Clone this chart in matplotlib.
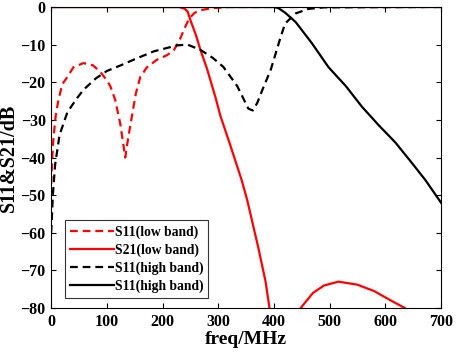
import numpy as np
import matplotlib
matplotlib.use("Agg")
import matplotlib.pyplot as plt

# S11 low band (red dashed)
s11_low_f = [0, 2, 4, 8, 13, 20, 29, 40, 58, 75, 88, 100, 106, 115, 124, 133, 138, 145, 152, 160, 172, 190, 208, 220, 230, 240, 248, 258, 270, 290, 320, 700]
s11_low_db = [-47, -40, -35, -29, -24.7, -20.5, -18.6, -16, -14.9, -15.5, -17.2, -19.5, -21, -24.7, -31, -40, -35, -29, -23, -18.6, -16, -14, -12.8, -11.5, -9, -5.5, -3, -1.5, -0.8, -0.3, 0, 0]

# S21 low band (red solid)
s21_low_f = [0, 230, 240, 245, 250, 260, 268, 280, 295, 304, 320, 342, 352, 372, 385, 392, 398, 440, 448, 470, 490, 516, 550, 580, 610, 635, 650]
s21_low_db = [0, 0, -0.5, -1.2, -3.5, -7.5, -11.4, -16.5, -24, -29, -36, -46, -51.3, -64, -73, -80, -86, -86, -80, -76, -74, -73, -73.8, -75.5, -78, -80, -82]

# S11 high band (black dashed)
s11_high_f = [0, 3, 7, 15, 29, 45, 58, 80, 100, 125, 148, 184, 226, 245, 268, 290, 309, 334, 354, 362, 370, 382, 394, 412, 420, 439, 462, 490, 700]
s11_high_db = [-60, -50, -42, -34, -28, -24.5, -22, -19, -17, -15.5, -14, -11.8, -10.2, -10, -11.4, -13.5, -15.9, -21, -27, -27.5, -25.5, -21, -16.8, -8, -4.4, -1.7, -0.5, -0.1, 0]

# S21 high band (black solid, labelled S11 in the original)
s21_high_f = [0, 400, 408, 420, 439, 468, 498, 529, 558, 588, 618, 648, 672, 700]
s21_high_db = [0, 0, -0.3, -1.5, -4, -9.6, -16, -21, -26.5, -31.4, -36, -41.5, -46, -52]

plt.rcParams['font.family'] = ['Liberation Serif', 'DejaVu Serif']
plt.rcParams['font.weight'] = 'bold'

fig = plt.figure(figsize=(4.57, 3.59), dpi=100)
ax = fig.add_axes([0.112, 0.142, 0.853, 0.8385])

dash = (3.5, 2.2)
ax.plot(s11_low_f, s11_low_db, color='r', lw=1.6, ls='--', dashes=dash, label='S11(low band)')
ax.plot(s21_low_f, s21_low_db, color='r', lw=1.6, ls='-', label='S21(low band)')
ax.plot(s11_high_f, s11_high_db, color='k', lw=1.6, ls='--', dashes=dash, label='S11(high band)')
ax.plot(s21_high_f, s21_high_db, color='k', lw=1.6, ls='-', label='S11(high band)')

ax.set_xlim(0, 700)
ax.set_ylim(-80, 0)
ax.set_xticks(np.arange(0, 701, 100))
ax.set_yticks(np.arange(-80, 1, 10))
ax.tick_params(direction='in', top=True, right=True, length=3.5, labelsize=11.5, width=0.8, pad=4)
for lab in ax.get_xticklabels() + ax.get_yticklabels():
    lab.set_fontweight('bold')

ax.set_xlabel('freq/MHz', fontsize=14, fontweight='bold', labelpad=1)
ax.set_ylabel('S11&S21/dB', fontsize=14.5, fontweight='bold', labelpad=1)

leg = ax.legend(loc='lower left', bbox_to_anchor=(0.036, 0.033), fontsize=9.8,
                frameon=True, fancybox=False, edgecolor='k', handlelength=3.2,
                handletextpad=0.1, borderpad=0.35, labelspacing=0.35, borderaxespad=0)
leg.get_frame().set_linewidth(0.8)
for t in leg.get_texts():
    t.set_fontweight('bold')

fig.savefig('out.png', dpi=100)
